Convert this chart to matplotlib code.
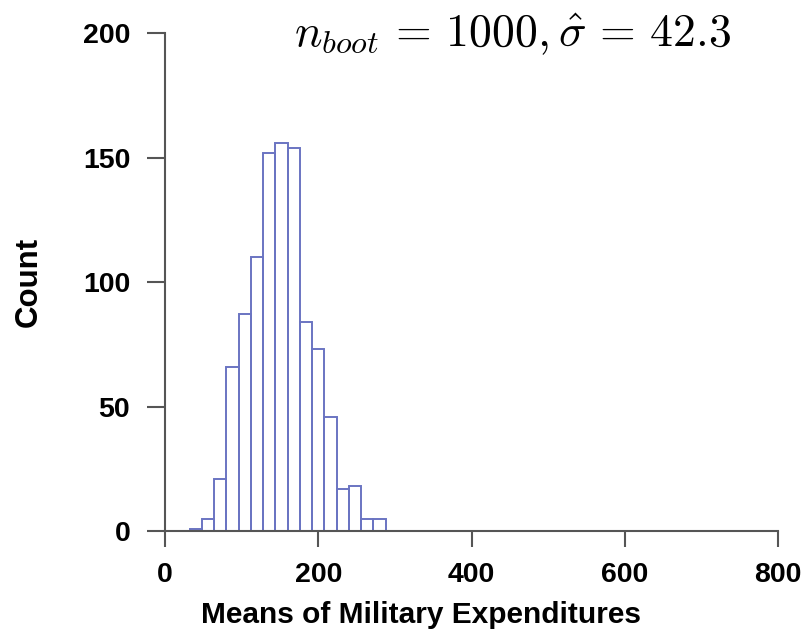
import matplotlib
matplotlib.use('Agg')

import matplotlib.pyplot as plt
import numpy as np

# Bootstrap histogram data (bin width 16, starting at 32)
bin_edges = [32, 48, 64, 80, 96, 112, 128, 144, 160, 176, 192, 208, 224, 240, 256, 272, 288]
counts = [1, 5, 21, 66, 87, 110, 152, 156, 154, 84, 73, 46, 17, 18, 5, 5]
x_ticks = [0, 200, 400, 600, 800]
y_ticks = [0, 50, 100, 150, 200]

plt.rcParams['font.family'] = ['Liberation Sans', 'DejaVu Sans']
plt.rcParams['mathtext.fontset'] = 'cm'

fig = plt.figure(figsize=(8.1, 6.3), dpi=100)
ax = fig.add_axes([0.2037, 0.157, 0.7568, 0.7906])

lefts = np.array(bin_edges[:-1])
widths = np.diff(bin_edges)
ax.bar(lefts, counts, width=widths, align='edge', fill=False,
       edgecolor='#6a74c2', linewidth=1.4)

ax.set_xlim(0, 800)
ax.set_ylim(0, 200)
ax.set_xticks(x_ticks)
ax.set_yticks(y_ticks)

for side in ['top', 'right']:
    ax.spines[side].set_visible(False)
for side in ['left', 'bottom']:
    ax.spines[side].set_color('#555555')
    ax.spines[side].set_linewidth(1.5)

ax.tick_params(direction='out', width=1.5, color='#555555', labelsize=20.5)
ax.tick_params(axis='x', length=11.5, pad=11)
ax.tick_params(axis='y', length=13, pad=12)
for lbl in ax.get_xticklabels() + ax.get_yticklabels():
    lbl.set_fontweight('bold')

# axis titles placed like the original (not centred on the axes)
fig.text(0.52, 0.011, 'Means of Military Expenditures', fontsize=21.5,
         fontweight='bold', ha='center', va='baseline')
fig.text(0.035, 0.5524, 'Count', fontsize=22.5, fontweight='bold',
         rotation=90, ha='center', va='center')

fig.text(0.633, 0.946, r'$n_{boot} \,=\, 1000, \hat{\sigma} \,=\, 42.3$', fontsize=33,
         ha='center', va='center')

fig.savefig('out.png', dpi=100)
